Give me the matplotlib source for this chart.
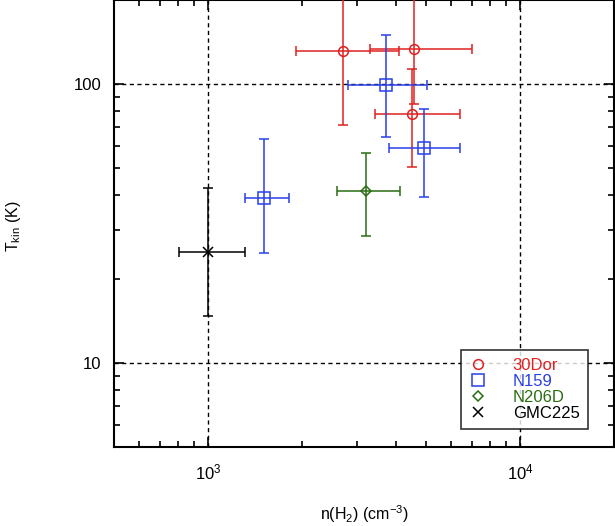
import numpy as np
import matplotlib
matplotlib.use("Agg")
import matplotlib.pyplot as plt

plt.rcParams['font.family'] = ['Liberation Sans', 'DejaVu Sans']
plt.rcParams['mathtext.fontset'] = 'custom'
plt.rcParams['mathtext.rm'] = 'Liberation Sans'
plt.rcParams['mathtext.it'] = 'Liberation Sans:italic'
plt.rcParams['mathtext.default'] = 'regular'

# density n(H2) [cm^-3] with lower / upper bounds, and Tkin [K] with bounds
dor_n = [2700, 4580, 4490]
dor_n_lo = [1910, 3300, 3420]
dor_n_hi = [4100, 7010, 6410]
dor_t = [131, 133, 78]
dor_t_lo = [71, 84.5, 50.6]
dor_t_hi = [260, 260, 113]

n159_n = [3720, 4910, 1514]
n159_n_lo = [2800, 3810, 1310]
n159_n_hi = [5040, 6410, 1815]
n159_t = [99.5, 59, 39]
n159_t_lo = [64.4, 39.5, 24.7]
n159_t_hi = [150, 81.3, 63.4]

n206_n = [3210]
n206_n_lo = [2600]
n206_n_hi = [4110]
n206_t = [41.5]
n206_t_lo = [28.6]
n206_t_hi = [56.4]

gmc_n = [1000]
gmc_n_lo = [808]
gmc_n_hi = [1313]
gmc_t = [25]
gmc_t_lo = [14.8]
gmc_t_hi = [42.4]

sources = [
    ("30Dor", dor_n, dor_n_lo, dor_n_hi, dor_t, dor_t_lo, dor_t_hi, "#e02020", "o", 7),
    ("N159", n159_n, n159_n_lo, n159_n_hi, n159_t, n159_t_lo, n159_t_hi, "#2a3ee8", "s", 8),
    ("N206D", n206_n, n206_n_lo, n206_n_hi, n206_t, n206_t_lo, n206_t_hi, "#2a6e12", "D", 5.5),
    ("GMC225", gmc_n, gmc_n_lo, gmc_n_hi, gmc_t, gmc_t_lo, gmc_t_hi, "black", "x", 7),
]

fig = plt.figure(figsize=(6.15, 5.26), dpi=100)
ax = fig.add_axes([114/615, 79/526, 500/615, 447/526])
ax.set_xscale('log')
ax.set_yscale('log')

handles = []
for name, n, nlo, nhi, t, tlo, thi, col, mk, ms in sources:
    n = np.array(n); t = np.array(t)
    xerr = [n - np.array(nlo), np.array(nhi) - n]
    yerr = [t - np.array(tlo), np.array(thi) - t]
    ax.errorbar(n, t, xerr=xerr, yerr=yerr, fmt='none', ecolor=col,
                elinewidth=1.1, capsize=3.5, capthick=1.1, zorder=3)
    h, = ax.plot(n, t, linestyle='none', marker=mk, markersize=ms,
                 markerfacecolor='none', markeredgecolor=col,
                 markeredgewidth=1.1, label=name, zorder=4)
    handles.append(h)

ax.set_xlim(500, 20000)
ax.set_ylim(5, 200)

ax.grid(True, which='major', color='black', linestyle=(0, (3, 2.5)), linewidth=1.0)
ax.tick_params(which='both', direction='in', top=True, right=True, labelsize=12)
ax.tick_params(which='major', length=7, width=1.2)
ax.tick_params(which='minor', length=4.5, width=1.2)
ax.tick_params(axis='x', which='both', pad=11)
ax.tick_params(axis='y', which='both', pad=9)
ax.yaxis.set_major_formatter(matplotlib.ticker.FuncFormatter(lambda v, p: f"{v:g}"))
ax.yaxis.set_minor_formatter(matplotlib.ticker.NullFormatter())
for s in ax.spines.values():
    s.set_linewidth(1.5)

ax.set_xlabel(r"n(H$_2$) (cm$^{-3}$)", fontsize=11.5)
ax.xaxis.set_label_coords(0.5, -0.127)
ax.set_ylabel(r"T$_{\rm kin}$ (K)", fontsize=11.5)
ax.yaxis.set_label_coords(-0.182, 0.494)

leg = ax.legend(handles=handles, loc='lower right', bbox_to_anchor=(0.948, 0.04),
                fontsize=12, frameon=True, fancybox=False, edgecolor='black',
                handlelength=1.0, handletextpad=1.6, labelspacing=0.05,
                borderpad=0.5, borderaxespad=0)
leg.get_frame().set_linewidth(1.2)
for txt, src in zip(leg.get_texts(), sources):
    txt.set_color(src[7])

fig.savefig("out.png", dpi=100)
